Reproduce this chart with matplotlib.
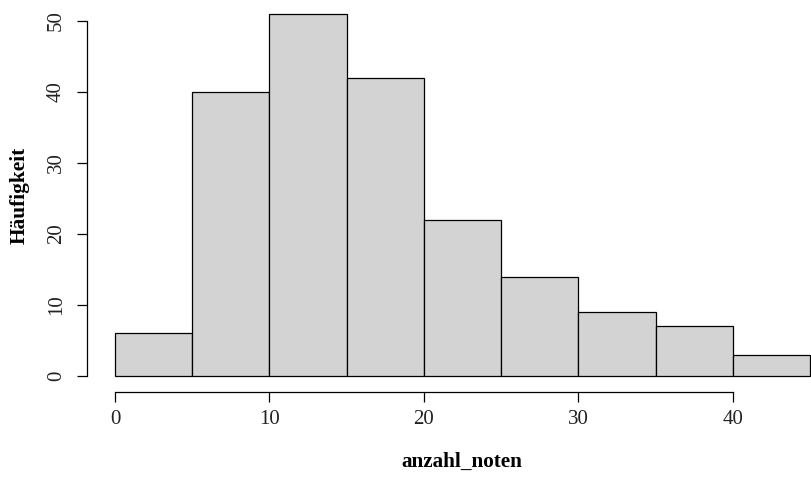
import numpy as np
import matplotlib
matplotlib.use("Agg")
import matplotlib.pyplot as plt

# histogram of anzahl_noten (bin edges and counts)
bin_edges = [0, 5, 10, 15, 20, 25, 30, 35, 40, 45]
counts = [6, 40, 51, 42, 22, 14, 9, 7, 3]
x_ticks = [0, 10, 20, 30, 40]
y_ticks = [0, 10, 20, 30, 40, 50]

plt.rcParams['font.family'] = ['Liberation Serif', 'DejaVu Serif']

W, H = 811, 478
fig = plt.figure(figsize=(W / 100, H / 100), dpi=100)
# axes: left spine at x=87px, bottom spine at y=392px, running to the image edges
ax = fig.add_axes([87 / W, 1 - 392 / H, 1 - 87 / W, 392 / H])

edges = np.array(bin_edges)
ax.bar(edges[:-1], counts, width=np.diff(edges), align="edge",
       color="#D3D3D3", edgecolor="black", linewidth=0.9)

ax.set_xlim(-1.81, 45.05)
ax.set_ylim(-2.25, 52.96)

for side in ("top", "right"):
    ax.spines[side].set_visible(False)
ax.spines["left"].set_bounds(0, 50)
ax.spines["bottom"].set_bounds(0, 40)
for side in ("left", "bottom"):
    ax.spines[side].set_linewidth(0.9)

ax.set_xticks(x_ticks)
ax.set_yticks(y_ticks)
ax.tick_params(axis="x", length=7, width=0.9, pad=6, labelsize=15, labelcolor="#222222")
ax.tick_params(axis="y", length=7.2, width=0.9, pad=8, labelsize=15, labelcolor="#222222")
for lab in ax.get_yticklabels():
    lab.set_rotation(90)
    lab.set_va("center")

ax.set_xlabel("anzahl_noten", fontsize=15.2, fontweight="bold")
ax.xaxis.set_label_coords((462 - 87) / (W - 87), (392 - 452) / 392)
ax.set_ylabel("Häufigkeit", fontsize=15.4, fontweight="bold", va="center")
ax.yaxis.set_label_coords((20 - 87) / (W - 87), (392 - 195) / 392)

fig.savefig("out.png", dpi=100)
